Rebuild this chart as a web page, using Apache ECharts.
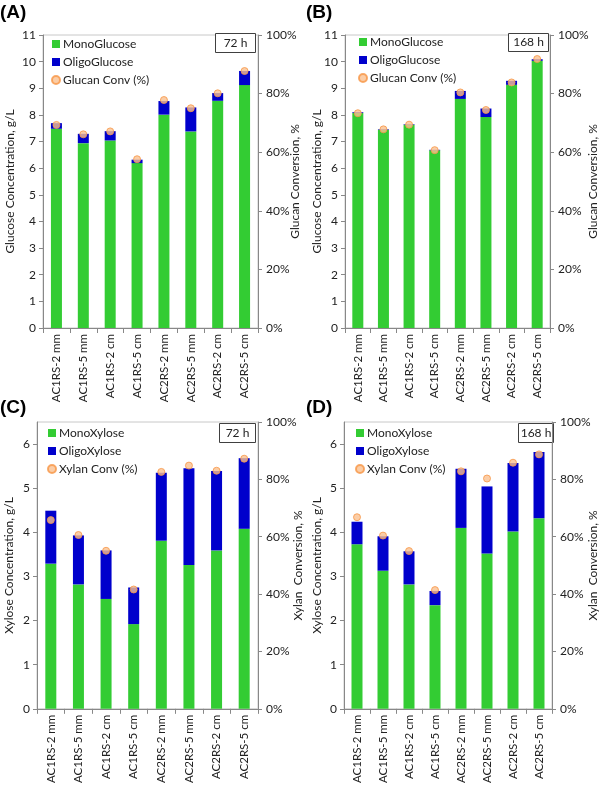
<!DOCTYPE html>
<html>
<head>
<meta charset="utf-8">
<script src="https://cdn.jsdelivr.net/npm/echarts@6/dist/echarts.min.js"></script>
<style>
html,body{margin:0;padding:0;background:#fff;}
#c{width:600px;height:786px;}
</style>
</head>
<body>
<div id="c"></div>
<script>
// ---- data ----
const categories = ['AC1RS-2 mm','AC1RS-5 mm','AC1RS-2 cm','AC1RS-5 cm','AC2RS-2 mm','AC2RS-5 mm','AC2RS-2 cm','AC2RS-5 cm'];

const monoGlucose72  = [7.48, 6.94, 7.04, 6.19, 8.01, 7.38, 8.53, 9.12];
const oligoGlucose72 = [0.21, 0.35, 0.35, 0.13, 0.51, 0.90, 0.29, 0.53];
const glucanConv72   = [69.3, 66.1, 67.1, 57.6, 77.8, 75.0, 80.1, 87.7];

const monoGlucose168  = [8.07, 7.44, 7.63, 6.67, 8.60, 7.92, 9.13, 10.03];
const oligoGlucose168 = [0.03, 0.02, 0.02, 0.02, 0.30, 0.32, 0.15, 0.06];
const glucanConv168   = [73.3, 67.8, 69.4, 60.7, 80.4, 74.4, 83.8, 91.8];

const monoXylose72  = [3.29, 2.82, 2.49, 1.92, 3.81, 3.26, 3.59, 4.08];
const oligoXylose72 = [1.20, 1.11, 1.10, 0.83, 1.54, 2.19, 1.80, 1.60];
const xylanConv72   = [65.8, 60.6, 55.1, 41.6, 82.6, 84.8, 83.0, 87.2];

const monoXylose168  = [3.73, 3.13, 2.82, 2.35, 4.10, 3.52, 4.02, 4.32];
const oligoXylose168 = [0.51, 0.78, 0.75, 0.32, 1.34, 1.52, 1.55, 1.50];
const xylanConv168   = [66.8, 60.4, 55.0, 41.4, 82.8, 80.3, 85.8, 88.7];

const glucoseTicks = [0,1,2,3,4,5,6,7,8,9,10,11];
const xyloseTicks  = [0,1,2,3,4,5,6];
const convTicks    = [0,20,40,60,80,100];

const panelLabels = ['(A)','(B)','(C)','(D)'];
const timeLabels  = ['72 h','168 h','72 h','168 h'];

// ---- styles ----
const FONT = 'Lato, "Open Sans", sans-serif';
const GREEN = '#33CC33', BLUE = '#0000CC', ORANGE_FILL = '#FAC090', ORANGE_EDGE = '#F79646';
const AXIS_COLOR = '#888888', TEXT_COLOR = '#222';

const grids = [
  {left: 43,  top: 35,  width: 215, height: 293},
  {left: 345, top: 35,  width: 208, height: 293},
  {left: 37,  top: 422, width: 221, height: 298},
  {left: 344, top: 422, width: 213, height: 298}
];

const panels = [
  {mono: monoGlucose72, oligo: oligoGlucose72, conv: glucanConv72,
   names: ['MonoGlucose','OligoGlucose','Glucan Conv (%)'],
   yMax: 11, yTicks: glucoseTicks, yName: 'Glucose Concentration, g/L', rName: 'Glucan Conversion, %',
   lGap: 27, rGap: 31},
  {mono: monoGlucose168, oligo: oligoGlucose168, conv: glucanConv168,
   names: ['MonoGlucose','OligoGlucose','Glucan Conv (%)'],
   yMax: 11, yTicks: glucoseTicks, yName: 'Glucose Concentration, g/L', rName: 'Glucan Conversion, %',
   lGap: 22, rGap: 37},
  {mono: monoXylose72, oligo: oligoXylose72, conv: xylanConv72,
   names: ['MonoXylose','OligoXylose','Xylan Conv (%)'],
   yMax: 6.5, yTicks: xyloseTicks, yName: 'Xylose Concentration, g/L', rName: 'Xylan  Conversion, %',
   lGap: 22, rGap: 34},
  {mono: monoXylose168, oligo: oligoXylose168, conv: xylanConv168,
   names: ['MonoXylose','OligoXylose','Xylan Conv (%)'],
   yMax: 6.5, yTicks: xyloseTicks, yName: 'Xylose Concentration, g/L', rName: 'Xylan  Conversion, %',
   lGap: 21, rGap: 35}
];

const legendPos = [
  {left: 51, top: 38},
  {left: 358, top: 36},
  {left: 47, top: 427},
  {left: 355, top: 427}
];
const boxPos = [
  {x: 215, y: 33, w: 40, h: 19},
  {x: 508, y: 33, w: 40, h: 18},
  {x: 219, y: 423, w: 36, h: 19},
  {x: 518, y: 423, w: 35, h: 19}
];
const labelPos = [
  {left: 0, top: 3}, {left: 306, top: 3}, {left: 0, top: 398}, {left: 306, top: 398}
];

const option = {
  animation: false,
  backgroundColor: '#fff',
  grid: grids.map(g => Object.assign({show: true, borderColor: '#c8c8c8', borderWidth: 1, containLabel: false}, g)),
  title: panelLabels.map((t, i) => ({
    text: t, left: labelPos[i].left, top: labelPos[i].top, padding: 0,
    textStyle: {fontFamily: 'Liberation Sans, Arial, sans-serif', fontWeight: 'bold', fontSize: 19, color: '#000'}
  })),
  legend: panels.map((p, i) => ({
    data: p.names.map((n, k) => ({name: n, icon: k === 2 ? 'circle' : 'rect'})),
    orient: 'vertical', left: legendPos[i].left, top: legendPos[i].top,
    itemWidth: 8, itemHeight: 8, itemGap: 6, padding: 0,
    textStyle: {fontFamily: FONT, fontSize: 12, color: TEXT_COLOR, padding: [0,0,0,-2]},
    selectedMode: false
  })),
  xAxis: panels.map((p, i) => ({
    type: 'category', gridIndex: i, data: categories, boundaryGap: true,
    axisLine: {lineStyle: {color: AXIS_COLOR}},
    axisTick: {show: true, length: 5, lineStyle: {color: AXIS_COLOR}},
    axisLabel: {rotate: 90, margin: 6, fontFamily: FONT, fontSize: 11.5, color: TEXT_COLOR, interval: 0},
    splitLine: {show: false}
  })),
  yAxis: [],
  series: [],
  graphic: []
};

panels.forEach((p, i) => {
  option.yAxis.push({
    type: 'value', gridIndex: i, min: 0, max: p.yMax, interval: 1, position: 'left',
    name: p.yName, nameLocation: 'middle', nameRotate: 90, nameGap: p.lGap, nameMoveOverlap: false,
    nameTextStyle: {fontFamily: FONT, fontSize: 12, color: TEXT_COLOR},
    axisLine: {show: true, lineStyle: {color: AXIS_COLOR}},
    axisTick: {show: true, length: 4, lineStyle: {color: AXIS_COLOR}, customValues: p.yTicks},
    axisLabel: {fontFamily: FONT, fontSize: 12, color: TEXT_COLOR, margin: 7, customValues: p.yTicks},
    splitLine: {show: false}
  });
  option.yAxis.push({
    type: 'value', gridIndex: i, min: 0, max: 100, interval: 20, position: 'right',
    name: p.rName, nameLocation: 'middle', nameRotate: 90, nameGap: p.rGap, nameMoveOverlap: false,
    nameTextStyle: {fontFamily: FONT, fontSize: 12, color: TEXT_COLOR},
    axisLine: {show: true, lineStyle: {color: AXIS_COLOR}},
    axisTick: {show: true, length: 4, lineStyle: {color: AXIS_COLOR}},
    axisLabel: {fontFamily: FONT, fontSize: 12, color: TEXT_COLOR, margin: 8, formatter: '{value}%', customValues: convTicks},
    splitLine: {show: false}
  });
  option.series.push({
    name: p.names[0], type: 'bar', xAxisIndex: i, yAxisIndex: 2*i, stack: 's' + i,
    data: p.mono, barWidth: 11, itemStyle: {color: GREEN}
  });
  option.series.push({
    name: p.names[1], type: 'bar', xAxisIndex: i, yAxisIndex: 2*i, stack: 's' + i,
    data: p.oligo, barWidth: 11, itemStyle: {color: BLUE}
  });
  option.series.push({
    name: p.names[2], type: 'scatter', xAxisIndex: i, yAxisIndex: 2*i + 1,
    data: p.conv, symbol: 'circle', symbolSize: 7, z: 5,
    itemStyle: {color: ORANGE_FILL, borderColor: ORANGE_EDGE, borderWidth: 1}
  });
  const b = boxPos[i];
  option.graphic.push({
    type: 'group', left: b.x, top: b.y,
    children: [
      {type: 'rect', shape: {x: 0, y: 0, width: b.w, height: b.h},
       style: {fill: '#fff', stroke: '#404040', lineWidth: 1}},
      {type: 'text', x: b.w / 2, y: b.h / 2,
       style: {text: timeLabels[i], fontFamily: FONT, fontSize: 12, fill: TEXT_COLOR, align: 'center', verticalAlign: 'middle'}}
    ]
  });
});

const chart = echarts.init(document.getElementById('c'), null, {renderer: 'canvas', width: 600, height: 786});
chart.setOption(option);
</script>
</body>
</html>
